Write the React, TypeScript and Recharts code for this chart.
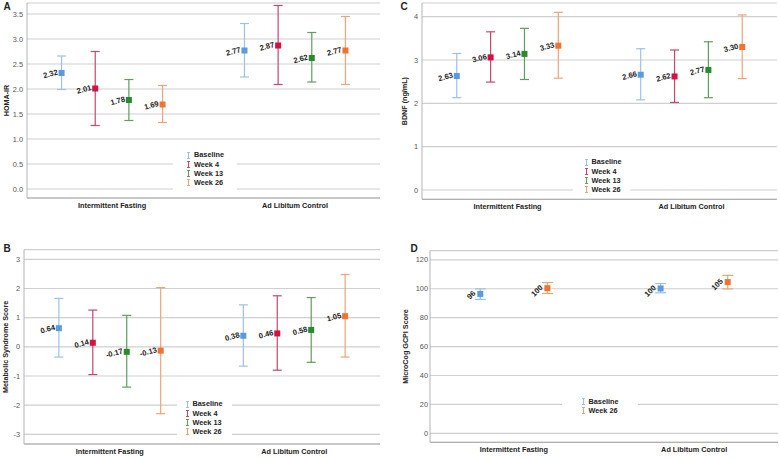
import React from 'react';
import { ScatterChart, Scatter, XAxis, YAxis, CartesianGrid, ErrorBar, Legend } from 'recharts';

// ---------- categories / series names ----------
const groups = ['Intermittent Fasting', 'Ad Libitum Control'];
const timepoints4 = ['Baseline', 'Week 4', 'Week 13', 'Week 26'];
const timepoints2 = ['Baseline', 'Week 26'];

// ---------- Panel A: HOMA-IR (rows = timepoints, cols = groups) ----------
const homaMean = [[2.32, 2.77], [2.01, 2.87], [1.78, 2.62], [1.69, 2.77]];
const homaLow = [[1.99, 2.24], [1.27, 2.09], [1.37, 2.14], [1.33, 2.09]];
const homaHigh = [[2.66, 3.31], [2.75, 3.67], [2.19, 3.13], [2.07, 3.45]];
const homaTicks = [0, 0.5, 1, 1.5, 2, 2.5, 3, 3.5];

// ---------- Panel B: Metabolic Syndrome Score ----------
const metsMean = [[0.64, 0.38], [0.14, 0.46], [-0.17, 0.58], [-0.13, 1.05]];
const metsLow = [[-0.35, -0.66], [-0.95, -0.8], [-1.38, -0.53], [-2.29, -0.35]];
const metsHigh = [[1.66, 1.44], [1.26, 1.75], [1.08, 1.69], [2.03, 2.48]];
const metsTicks = [-3, -2, -1, 0, 1, 2, 3];

// ---------- Panel C: BDNF (ng/mL) ----------
const bdnfMean = [[2.63, 2.66], [3.06, 2.62], [3.14, 2.77], [3.33, 3.3]];
const bdnfLow = [[2.13, 2.08], [2.49, 2.02], [2.55, 2.13], [2.58, 2.57]];
const bdnfHigh = [[3.15, 3.26], [3.65, 3.23], [3.73, 3.42], [4.1, 4.04]];
const bdnfTicks = [0, 1, 2, 3, 4];

// ---------- Panel D: MicroCog GCPI Score ----------
const gcpiMean = [[96.4, 100.2], [100.4, 104.6]];
const gcpiLow = [[92.6, 97.2], [96.7, 99.9]];
const gcpiHigh = [[99.9, 103.6], [104.3, 109.2]];
const gcpiTicks = [0, 20, 40, 60, 80, 100, 120];

// ---------- styling ----------
const markerColors: Record<string, string> = {
  Baseline: '#5a9be0',
  'Week 4': '#d41140',
  'Week 13': '#2c8a2c',
  'Week 26': '#f2722f',
};
const barColors: Record<string, string> = {
  Baseline: '#9ec0e6',
  'Week 4': '#c4486a',
  'Week 13': '#5e9e5e',
  'Week 26': '#eea478',
};
const FONT = '"Liberation Sans", Arial, sans-serif';
const X_DOMAIN: [number, number] = [-0.465, 1.465];
const OFFSETS4 = [-0.276, -0.092, 0.092, 0.276];
const OFFSETS2 = [-0.186, 0.186];

type Pt = { x: number; y: number; err: [number, number] };
type Series = { name: string; data: Pt[] };

function buildSeries(names: string[], mean: number[][], low: number[][], high: number[][], offsets: number[]): Series[] {
  return names.map((name, i) => ({
    name,
    data: groups.map((_, gi) => ({
      x: gi + offsets[i],
      y: mean[i][gi],
      err: [mean[i][gi] - low[i][gi], high[i][gi] - mean[i][gi]] as [number, number],
    })),
  }));
}

type PanelCfg = {
  letter: string;
  letterPos: [number, number];
  left: number;
  top: number;
  margin: { top: number; right: number; bottom: number; left: number };
  yWidth: number;
  tickGap: number;
  domain: [number, number];
  ticks: number[];
  fmt: (v: number) => string;
  title: string;
  titleX: number;
  series: Series[];
  decimals: number;
  angle: number;
  labelDx: number;
  labelDy: number;
  cap: number;
  legend: { left: number; top: number; width: number; height: number; padLeft: number; padTop: number; row: number };
};

function makeShape(color: string, decimals: number, angle: number, dx: number, dy: number) {
  return (p: any) => {
    const { cx, cy, payload } = p;
    if (cx == null || cy == null) return null;
    const tx = cx + dx;
    const ty = cy + dy;
    return (
      <g>
        <rect x={cx - 3} y={cy - 3} width={6} height={6} fill={color} />
        <text
          x={tx}
          y={ty}
          textAnchor="end"
          dominantBaseline="central"
          transform={`rotate(${angle} ${tx} ${ty})`}
          fontSize={7.6}
          fontWeight={700}
          fill="#222"
          fontFamily={FONT}
        >
          {payload.y.toFixed(decimals)}
        </text>
      </g>
    );
  };
}

function Panel({ cfg }: { cfg: PanelCfg }) {
  const names = cfg.series.map((s) => s.name);
  const lg = cfg.legend;
  return (
    <div style={{ position: 'absolute', left: cfg.left, top: cfg.top, width: 390, height: 229, fontFamily: FONT }}>
      <ScatterChart width={390} height={229} margin={cfg.margin} accessibilityLayer={false}>
        <CartesianGrid vertical={false} stroke="#cfcfcf" strokeWidth={1.2} />
        <XAxis
          type="number"
          dataKey="x"
          domain={X_DOMAIN}
          ticks={[0, 1]}
          interval={0}
          allowDataOverflow
          tickFormatter={(v: number) => groups[v]}
          tickLine={false}
          tickSize={3}
          tickMargin={2}
          height={12}
          axisLine={{ stroke: '#a8a8a8' }}
          tick={{ fontSize: 7.3, fontWeight: 700, fill: '#222', fontFamily: FONT }}
        />
        <YAxis
          type="number"
          dataKey="y"
          domain={cfg.domain}
          ticks={cfg.ticks}
          interval={0}
          allowDataOverflow
          width={cfg.yWidth}
          tickLine={false}
          tickSize={cfg.tickGap}
          tickMargin={2}
          tickFormatter={cfg.fmt}
          axisLine={{ stroke: '#b4b4b4' }}
          tick={{ fontSize: 7.4, fill: '#555', fontFamily: FONT }}
          label={(lp: any) => {
            const vb = lp.viewBox || {};
            const cy = (vb.y ?? 0) + (vb.height ?? 0) / 2;
            return (
              <text
                x={cfg.titleX}
                y={cy}
                transform={`rotate(-90 ${cfg.titleX} ${cy})`}
                textAnchor="middle"
                dominantBaseline="central"
                fontSize={7.2}
                fontWeight={700}
                fill="#222"
                fontFamily={FONT}
              >
                {cfg.title}
              </text>
            );
          }}
        />
        {cfg.series.map((s) => (
          <Scatter
            key={s.name}
            name={s.name}
            data={s.data}
            fill={markerColors[s.name]}
            isAnimationActive={false}
            shape={makeShape(markerColors[s.name], cfg.decimals, cfg.angle, cfg.labelDx, cfg.labelDy)}
          >
            <ErrorBar
              dataKey="err"
              direction="y"
              width={cfg.cap}
              stroke={barColors[s.name]}
              strokeWidth={1.2}
              isAnimationActive={false}
            />
          </Scatter>
        ))}
        <Legend
          layout="vertical"
          align="center"
          verticalAlign="middle"
          wrapperStyle={{
            left: lg.left,
            top: lg.top,
            width: lg.width,
            height: lg.height,
            background: '#fff',
            boxSizing: 'border-box',
            paddingLeft: lg.padLeft,
            paddingTop: lg.padTop,
          }}
          content={() => (
            <div>
              {names.map((n) => (
                <div key={n} style={{ display: 'flex', alignItems: 'center', height: lg.row }}>
                  <svg width={5} height={7} style={{ marginRight: 3, display: 'block' }}>
                    <line x1={1} y1={0.5} x2={4} y2={0.5} stroke={barColors[n]} strokeWidth={1} />
                    <line x1={2.5} y1={0.5} x2={2.5} y2={6.5} stroke={barColors[n]} strokeWidth={1} />
                    <line x1={1} y1={6.5} x2={4} y2={6.5} stroke={barColors[n]} strokeWidth={1} />
                  </svg>
                  <span style={{ fontSize: 7.3, fontWeight: 700, color: '#222', fontFamily: FONT, lineHeight: 1 }}>{n}</span>
                </div>
              ))}
            </div>
          )}
        />
      </ScatterChart>
      <div
        style={{
          position: 'absolute',
          left: cfg.letterPos[0] - 3.5,
          top: cfg.letterPos[1] - 6,
          fontSize: 10,
          fontWeight: 700,
          color: '#222',
          lineHeight: '12px',
          fontFamily: FONT,
          zIndex: 5,
        }}
      >
        {cfg.letter}
      </div>
    </div>
  );
}

const panels: PanelCfg[] = [
  {
    letter: 'A',
    letterPos: [7, 7],
    left: 0,
    top: 0,
    margin: { top: 3, right: 10, bottom: 19, left: 0 },
    yWidth: 27,
    tickGap: 2,
    domain: [-0.18, 3.72],
    ticks: homaTicks,
    fmt: (v) => v.toFixed(1),
    title: 'HOMA-IR',
    titleX: 6,
    series: buildSeries(timepoints4, homaMean, homaLow, homaHigh, OFFSETS4),
    decimals: 2,
    angle: -15,
    labelDx: -4,
    labelDy: -1,
    cap: 4.5,
    legend: { left: 173, top: 148, width: 64, height: 44, padLeft: 13, padTop: 2.4, row: 9.3 },
  },
  {
    letter: 'C',
    letterPos: [14, 7],
    left: 390,
    top: 0,
    margin: { top: 3, right: 3, bottom: 17.7, left: 0 },
    yWidth: 32,
    tickGap: 2,
    domain: [-0.215, 4.315],
    ticks: bdnfTicks,
    fmt: (v) => String(v),
    title: 'BDNF (ng/mL)',
    titleX: 15,
    series: buildSeries(timepoints4, bdnfMean, bdnfLow, bdnfHigh, OFFSETS4),
    decimals: 2,
    angle: -15,
    labelDx: -4,
    labelDy: -1,
    cap: 4.5,
    legend: { left: 183, top: 155, width: 57, height: 42, padLeft: 10.5, padTop: 2.4, row: 9.3 },
  },
  {
    letter: 'B',
    letterPos: [7, 20],
    left: 0,
    top: 229,
    margin: { top: 20.7, right: 10, bottom: 2, left: 0 },
    yWidth: 24,
    tickGap: 2,
    domain: [-3.33, 3.33],
    ticks: metsTicks,
    fmt: (v) => String(v),
    title: 'Metabolic Syndrome Score',
    titleX: 6,
    series: buildSeries(timepoints4, metsMean, metsLow, metsHigh, OFFSETS4),
    decimals: 2,
    angle: -15,
    labelDx: -4,
    labelDy: -1,
    cap: 4.5,
    legend: { left: 177, top: 168, width: 55, height: 44, padLeft: 7.5, padTop: 2.4, row: 9.3 },
  },
  {
    letter: 'D',
    letterPos: [24, 20],
    left: 390,
    top: 229,
    margin: { top: 21.7, right: 2, bottom: 3.7, left: 0 },
    yWidth: 40,
    tickGap: 0,
    domain: [-6.2, 126.3],
    ticks: gcpiTicks,
    fmt: (v) => String(v),
    title: 'MicroCog GCPI Score',
    titleX: 15,
    series: buildSeries(timepoints2, gcpiMean, gcpiLow, gcpiHigh, OFFSETS2),
    decimals: 0,
    angle: -45,
    labelDx: -6,
    labelDy: -2,
    cap: 5.5,
    legend: { left: 172, top: 165, width: 76, height: 26, padLeft: 18.5, padTop: 2.4, row: 9.7 },
  },
];

export default function App() {
  return (
    <div style={{ position: 'absolute', left: 0, top: 0, width: 780, height: 458, background: '#fff', overflow: 'hidden' }}>
      {panels.map((p) => (
        <Panel key={p.letter} cfg={p} />
      ))}
    </div>
  );
}
